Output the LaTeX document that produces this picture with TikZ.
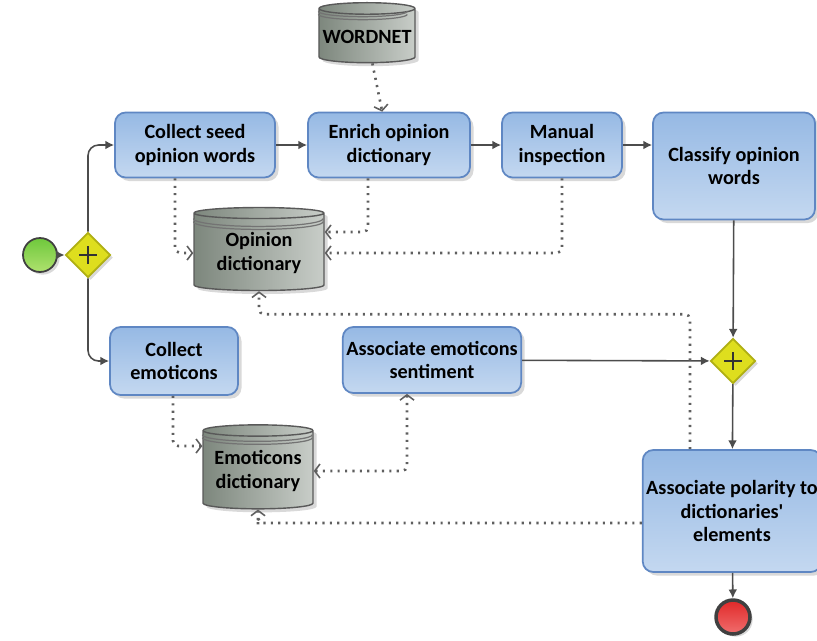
\documentclass[tikz,border=0pt]{standalone}
\usepackage{fontspec}
\setmainfont{Carlito}
\usetikzlibrary{arrows.meta,positioning,shapes.geometric,shadows,calc}

\definecolor{taskTop}{RGB}{150,185,228}
\definecolor{taskBot}{RGB}{196,216,240}
\definecolor{taskLine}{RGB}{95,135,195}
\definecolor{storeDark}{RGB}{125,135,125}
\definecolor{storeLight}{RGB}{200,205,200}
\definecolor{gateFill}{RGB}{222,222,30}
\definecolor{gateLine}{RGB}{175,175,20}
\definecolor{startTop}{RGB}{110,200,60}
\definecolor{startBot}{RGB}{175,225,110}
\definecolor{endTop}{RGB}{225,40,40}
\definecolor{endBot}{RGB}{240,110,110}
\definecolor{assocGray}{RGB}{95,95,95}

\tikzset{
  task/.style={draw=taskLine, line width=1pt, rounded corners=6pt,
    top color=taskTop, bottom color=taskBot, align=center,
    font=\fontsize{11.5}{13.6}\selectfont\bfseries, inner sep=2pt,
    drop shadow={shadow xshift=2pt, shadow yshift=-2pt, opacity=0.3}},
  store/.style={cylinder, shape border rotate=90, aspect=0.12, draw=black!65,
    line width=0.8pt, left color=storeDark, right color=storeLight,
    align=center, font=\fontsize{11.5}{13.6}\selectfont\bfseries, inner sep=2pt,
    drop shadow={shadow xshift=2pt, shadow yshift=-2pt, opacity=0.3}},
  ring/.style={draw=black!55, line width=0.7pt},
  gateway/.style={diamond, draw=gateLine, line width=1pt, fill=gateFill,
    minimum size=0.9cm, inner sep=0pt,
    drop shadow={shadow xshift=1.5pt, shadow yshift=-1.5pt, opacity=0.3},
    path picture={\draw[line width=1.4pt, black!80]
      ($(path picture bounding box.center)+(-9,0)$) -- ++(18,0)
      ($(path picture bounding box.center)+(0,-9)$) -- ++(0,18);}},
  event/.style={circle, draw=black!75, minimum size=0.68cm, inner sep=0pt,
    drop shadow={shadow xshift=1.5pt, shadow yshift=-1.5pt, opacity=0.3}},
  flow/.style={-{Latex[length=5pt,width=5pt]}, line width=0.9pt, black!70},
  barb/.tip={Straight Barb[length=3pt,width=8pt,line width=0.9pt]},
  assoc/.style={-barb, line width=1.5pt,
    assocGray, dash pattern=on 1.2pt off 3pt, rounded corners=3pt},
}

\begin{document}
\begin{tikzpicture}[x=0.02cm, y=-0.02cm]
  \useasboundingbox (0,0) rectangle (817,640);

  % Events and gateways
  \node[event, top color=startTop, bottom color=startBot, line width=1pt] (start) at (40,255) {};
  \node[gateway] (split) at (88,255) {};
  \node[gateway] (join) at (733,361) {};
  \node[event, top color=endTop, bottom color=endBot, line width=2pt] (stop) at (733,617) {};

  % Tasks
  \node[task, minimum width=3.2cm, minimum height=1.3cm] (seed) at (195,145) {Collect seed\\opinion words};
  \node[task, minimum width=3.24cm, minimum height=1.3cm] (enrich) at (389,145) {Enrich opinion\\dictionary};
  \node[task, minimum width=2.4cm, minimum height=1.3cm] (manual) at (562,145) {Manual\\inspection};
  \node[task, minimum width=3.24cm, minimum height=2.14cm] (classify) at (734,166) {Classify opinion\\words};
  \node[task, minimum width=2.56cm, minimum height=1.36cm] (emo) at (174,361) {Collect\\emoticons};
  \node[task, minimum width=3.46cm, minimum height=1.32cm] (assocemo) at (432,360) {Associate emoticons\\sentiment};
  \node[task, minimum width=3.38cm, minimum height=2.44cm] (polarity) at (732,511) {Associate polarity to\\dictionaries\textquotesingle\\elements};

  % Data stores
  \node[store, minimum width=1.78cm, minimum height=1.2cm] (wordnet) at (367,37) {WORDNET};
  \node[store, minimum width=2.6cm, minimum height=1.66cm] (opdict) at (259,253) {Opinion\\dictionary};
  \node[store, minimum width=2.2cm, minimum height=1.68cm] (emodict) at (258,471) {Emoticons\\dictionary};

  % rings under the lids
  \foreach \s/\r in {wordnet/0.89, opdict/1.3, emodict/1.1}
    \foreach \d in {4,7}
      \draw[ring] ($(\s.north -| \s.west)+(0,6*\r+\d)$)
        arc[start angle=180, end angle=360, x radius=\r cm, y radius={0.12*\r*1cm}];

  % Sequence flows
  \draw[flow] (start) -- (split);
  \draw[flow, rounded corners=6pt] (split.north) |- (seed.west);
  \draw[flow, rounded corners=6pt] (split.south) |- (emo.west);
  \draw[flow] (seed) -- (enrich);
  \draw[flow] (enrich) -- (manual);
  \draw[flow] (manual.east) -- (manual.east -| classify.west);
  \draw[flow] (classify) -- (join);
  \draw[flow] (assocemo) -- (join);
  \draw[flow] (join) -- (polarity);
  \draw[flow] (polarity) -- (stop);

  % Data associations
  \draw[assoc] (wordnet) -- (enrich);
  \draw[assoc] ($(seed.south)+(-20,0)$) |- (opdict.west);
  \draw[assoc] ($(enrich.south)+(-21,0)$) |- ($(opdict.east)+(0,-21)$);
  \draw[assoc] (manual.south) |- (opdict.east);
  \draw[assoc] ($(polarity.north)+(-42,0)$) |- ($(opdict.south)+(0,23)$) -- (opdict.south);
  \draw[assoc] ($(emo.south)+(-1,0)$) |- ($(emodict.west)+(0,-25)$);
  \draw[assoc, barb-barb] (emodict.east) -| ($(assocemo.south)+(-25,0)$);
  \draw[assoc] ($(polarity.west)+(0,12)$) -| ($(emodict.south)+(0,10)$) -- (emodict.south);
\end{tikzpicture}
\end{document}
